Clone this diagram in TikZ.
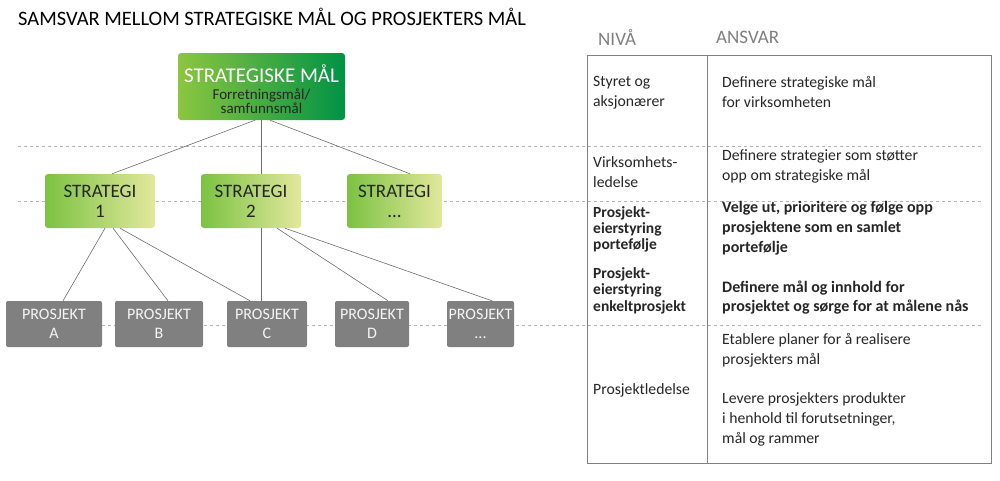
\documentclass[tikz,border=0pt]{standalone}
\usepackage{fontspec}
\setmainfont{Carlito}
\begin{document}
\begin{tikzpicture}[x=1pt,y=-1pt,
 topbox/.style={rounded corners=3pt,left color=gLight,right color=gDark,minimum width=167pt,minimum height=67pt,inner sep=0pt},
 strat/.style={rounded corners=3pt,left color=sL,right color=sR,minimum height=54pt,inner sep=0pt,text=black!85,font=\fontsize{19}{20}\selectfont,align=center},
 proj/.style={rounded corners=2pt,fill=pgray,minimum height=46pt,inner sep=0pt,text=white!92!gray,font=\fontsize{16}{19}\selectfont,align=center},
 conn/.style={draw=gray!85!black,line width=0.6pt},
 dline/.style={draw=gray!60,dashed,line width=0.7pt},
 lt/.style={anchor=north west,inner sep=0pt,align=left,font=\fontsize{15.7}{20}\selectfont,text=black!85},
 bt/.style={anchor=north west,inner sep=0pt,align=left,text=black!85},
 hd/.style={anchor=west,inner sep=0pt,font=\fontsize{19}{20}\selectfont,text=gray}]
\definecolor{gLight}{HTML}{8CC63F}
\definecolor{gDark}{HTML}{009245}
\definecolor{sL}{HTML}{7CC242}
\definecolor{sR}{HTML}{E2E89D}
\definecolor{pgray}{HTML}{808080}
\useasboundingbox (0,0) rectangle (1000,480);
\node[anchor=west,inner sep=0pt,font=\fontsize{20.5}{22}\selectfont] (title) at (18,17) {SAMSVAR MELLOM STRATEGISKE MÅL OG PROSJEKTERS MÅL};
% dashed lines
\draw[dline] (18,146) -- (983,146);
\draw[dline] (18,201) -- (983,201);
\draw[dline] (18,325) -- (983,325);
% table
\draw[gray,line width=0.8pt] (587,55) rectangle (991,463);
\draw[gray,line width=0.8pt] (707,55) -- (707,463);
\node[hd] (h1) at (598,37) {NIVÅ};
\node[hd] (h2) at (716,37) {ANSVAR};
% nodes
\node[topbox] (top) at (261.5,86.5) {};
\node[text=white,font=\fontsize{21}{22}\selectfont,inner sep=0pt] (topt) at (261.5,74) {STRATEGISKE MÅL};
\node[text=black!85,font=\fontsize{15}{13}\selectfont,align=center,inner sep=0pt] (tops) at (261.5,101) {Forretningsmål/\\samfunnsmål};
\node[strat,minimum width=110pt] (s1) at (100,201) {STRATEGI\\1};
\node[strat,minimum width=100pt] (s2) at (251,201) {STRATEGI\\2};
\node[strat,minimum width=95pt] (s3) at (394.5,201) {STRATEGI\\...};
\node[proj,minimum width=96pt] (pa) at (54,324) {PROSJEKT\\A};
\node[proj,minimum width=88pt] (pb) at (159,324) {PROSJEKT\\B};
\node[proj,minimum width=80pt] (pc) at (267,324) {PROSJEKT\\C};
\node[proj,minimum width=74pt] (pd) at (372,324) {PROSJEKT\\D};
\node[proj,minimum width=67pt] (pe) at (480.5,324) {PROSJEKT\\...};
% connectors
\draw[conn] ([xshift=-6.5pt]top.south) -- ([xshift=12pt]s1.north);
\draw[conn] (top.south) -- ([xshift=10.5pt]s2.north);
\draw[conn] ([xshift=8.5pt]top.south) -- ([xshift=15.5pt]s3.north);
\draw[conn] ([xshift=5pt]s1.south) -- ([xshift=9pt]pa.north);
\draw[conn] ([xshift=13pt]s1.south) -- ([xshift=9pt]pb.north);
\draw[conn] ([xshift=20pt]s1.south) -- ([xshift=-17pt]pc.north);
\draw[conn] ([xshift=10pt]s2.south) -- ([xshift=-6pt]pc.north);
\draw[conn] ([xshift=26pt]s2.south) -- ([xshift=16pt]pd.north);
\draw[conn] ([xshift=34pt]s2.south) -- ([xshift=11.5pt]pe.north);
% table texts
\node[lt] (l1) at (593,76) {Styret og\\aksjonærer};
\node[lt] (r1) at (722,76) {Definere strategiske mål\\for virksomheten};
\node[lt] (l2) at (593,156) {Virksomhets-\\ledelse};
\node[lt] (r2) at (722,149) {Definere strategier som støtter\\opp om strategiske mål};
\node[bt,font=\fontsize{15.5}{16.2}\selectfont\bfseries] (l3) at (593,206) {Prosjekt-\\eierstyring\\portefølje};
\node[bt,font=\fontsize{16}{20}\selectfont\bfseries] (r3) at (722,201) {Velge ut, prioritere og følge opp\\prosjektene som en samlet\\portefølje};
\node[bt,font=\fontsize{15.5}{16.5}\selectfont\bfseries] (l4) at (593,267) {Prosjekt-\\eierstyring\\enkeltprosjekt};
\node[bt,font=\fontsize{16}{19}\selectfont\bfseries] (r4) at (722,281) {Definere mål og innhold for\\prosjektet og sørge for at målene nås};
\node[lt] (l5) at (593,383) {Prosjektledelse};
\node[lt] (r5) at (722,333) {Etablere planer for å realisere\\prosjekters mål};
\node[lt] (r6) at (722,392) {Levere prosjekters produkter\\i henhold til forutsetninger,\\mål og rammer};
\end{tikzpicture}
\end{document}
